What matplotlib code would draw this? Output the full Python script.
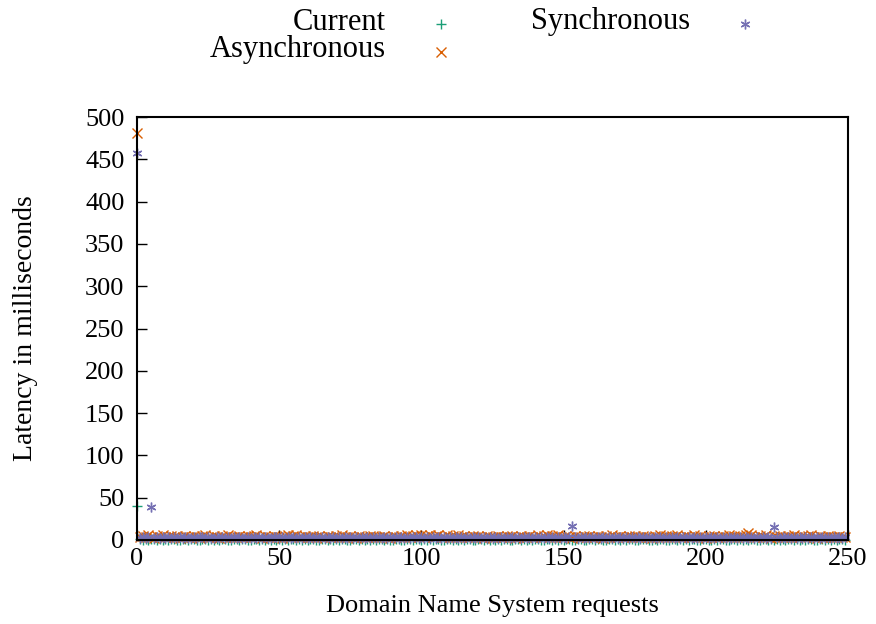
import matplotlib
matplotlib.use("Agg")
import matplotlib.pyplot as plt
import numpy as np

plt.rcParams['font.family'] = ['Liberation Serif', 'DejaVu Serif']

# latency per request (ms), request index 0..249
current = [
    40, 0.6, 0.5, 0.7, 0.4, 0.6, 0.8, 0.5, 0.6, 0.4, 0.7, 0.5, 0.6, 0.9, 0.5, 0.4, 0.6, 0.7, 0.5, 0.6, 0.8, 0.4, 0.5, 0.6, 0.7,
    0.5, 0.6, 0.4, 0.8, 0.5, 0.7, 0.6, 0.5, 0.4, 0.6, 0.9, 0.5, 0.6, 0.7, 0.4, 0.5, 0.6, 0.8, 0.5, 0.6, 0.4, 0.7, 0.5, 0.6, 0.5,
    0.7, 0.4, 0.6, 0.5, 0.8, 0.6, 0.5, 0.7, 0.4, 0.6, 0.5, 0.9, 0.6, 0.4, 0.5, 0.7, 0.6, 0.5, 0.8, 0.4, 0.6, 0.5, 0.7, 0.6, 0.5,
    0.4, 0.6, 0.8, 0.5, 0.7, 0.5, 0.6, 0.4, 0.6, 0.5, 0.7, 0.9, 0.5, 0.6, 0.4, 0.5, 0.6, 0.7, 0.5, 0.4, 0.8, 0.6, 0.5, 0.7, 0.6,
    0.5, 0.7, 0.4, 0.6, 0.5, 0.8, 0.6, 0.4, 0.5, 0.7, 0.6, 0.5, 0.9, 0.4, 0.6, 0.5, 0.7, 0.6, 0.5, 0.4, 0.8, 0.6, 0.5, 0.7, 0.5,
    0.6, 0.4, 0.7, 0.5, 0.6, 0.8, 0.5, 0.4, 0.6, 0.7, 0.5, 0.6, 0.4, 0.9, 0.5, 0.6, 0.7, 0.5, 0.4, 0.6, 0.8, 0.5, 0.6, 0.4, 0.7,
    0.5, 0.6, 0.8, 0.4, 0.5, 0.7, 0.6, 0.5, 0.4, 0.6, 0.7, 0.5, 0.9, 0.6, 0.4, 0.5, 0.6, 0.7, 0.5, 0.8, 0.4, 0.6, 0.5, 0.7, 0.6,
    0.4, 0.5, 0.7, 0.6, 0.8, 0.5, 0.4, 0.6, 0.5, 0.7, 0.6, 0.4, 0.5, 0.9, 0.6, 0.5, 0.7, 0.4, 0.6, 0.5, 0.8, 0.6, 0.5, 0.4, 0.7,
    0.6, 0.5, 0.4, 0.7, 0.5, 0.6, 0.8, 0.5, 0.4, 0.6, 0.7, 0.5, 0.6, 0.4, 0.9, 0.5, 0.6, 0.7, 0.4, 0.5, 0.6, 0.8, 0.5, 0.6, 0.4,
    0.7, 0.5, 0.6, 0.4, 0.8, 0.6, 0.5, 0.7, 0.4, 0.6, 0.5, 0.9, 0.6, 0.5, 0.4, 0.7, 0.6, 0.5, 0.8, 0.4, 0.6, 0.5, 0.7, 0.6, 0.5,
]
asynchronous = [
    481, 3.4, 4.3, 3.0, 5.5, 3.7, 2.8, 4.6, 3.2, 6.0, 3.9, 3.1, 4.8, 3.5, 5.3, 2.9, 4.1, 4.5, 3.3, 3.0, 5.1, 3.6, 2.8, 4.2, 5.8,
    3.4, 3.1, 4.7, 3.8, 2.9, 4.4, 3.2, 5.4, 4.0, 3.0, 3.7, 4.9, 3.1, 3.5, 5.2, 3.3, 4.2, 6.1, 3.6, 2.9, 4.5, 3.8, 3.0, 5.0, 3.4,
    4.1, 2.8, 4.6, 5.6, 3.5, 4.3, 5.9, 3.2, 3.0, 4.8, 3.7, 3.1, 4.4, 3.3, 5.2, 3.9, 2.9, 4.7, 3.4, 3.1, 4.2, 3.6, 5.5, 3.0, 3.8,
    4.5, 3.2, 2.9, 4.9, 3.5, 4.1, 3.0, 4.3, 5.3, 3.4, 3.1, 4.0, 4.6, 3.2, 2.9, 5.1, 3.7, 3.0, 4.4, 3.3, 5.7, 3.8, 4.2, 6.1, 3.5,
    6.2, 3.6, 5.0, 5.8, 3.4, 4.7, 5.4, 3.9, 3.1, 6.0, 3.3, 4.8, 3.6, 5.5, 3.0, 4.2, 3.8, 3.1, 4.5, 3.4, 5.2, 4.0, 2.9, 4.3, 3.2,
    3.7, 3.0, 4.8, 3.3, 3.1, 4.4, 3.6, 5.3, 2.9, 4.1, 4.6, 3.2, 3.0, 4.9, 3.5, 3.8, 5.6, 3.4, 4.2, 6.0, 3.3, 4.7, 3.7, 5.4, 3.1,
    4.0, 4.5, 3.2, 2.9, 5.1, 3.6, 3.0, 4.3, 3.4, 5.2, 3.8, 3.1, 4.6, 3.3, 2.9, 4.2, 3.7, 5.5, 3.0, 3.4, 4.8, 3.2, 3.1, 4.4, 3.9,
    5.3, 3.5, 3.0, 4.7, 3.3, 4.1, 2.9, 5.0, 3.6, 5.8, 3.2, 4.2, 3.1, 4.5, 3.4, 6.1, 3.8, 3.0, 4.9, 3.3, 3.7, 5.4, 3.1, 4.3, 3.5,
    2.9, 4.6, 3.2, 5.2, 4.0, 3.0, 4.4, 3.6, 5.9, 3.3, 4.2, 3.1, 4.8, 3.4, 5.5, 7.8, 6.4, 3.7, 3.0, 4.5, 3.2, 6.0, 3.8, 2.9, 4.7,
    3.5, 5.3, 4.1, 3.0, 4.4, 3.3, 5.6, 3.7, 3.1, 4.2, 3.4, 5.0, 5.7, 3.2, 2.9, 4.6, 3.6, 3.1, 4.3, 3.5, 3.0, 3.9, 4.8, 3.3, 3.1,
]
synchronous = [
    458, 2.8, 3.1, 2.5, 3.4, 39, 2.9, 3.2, 2.6, 3.6, 2.7, 3.0, 2.4, 3.3, 2.8, 3.5, 2.6, 3.1, 2.9, 2.5, 3.4, 2.7, 3.0, 3.6, 2.8,
    3.2, 2.5, 2.9, 3.4, 2.6, 3.1, 2.8, 3.5, 2.4, 3.0, 2.7, 3.3, 2.9, 2.6, 3.2, 2.8, 3.6, 2.5, 3.1, 2.7, 3.4, 2.9, 2.6, 3.0, 3.3,
    2.8, 3.5, 2.6, 3.1, 2.9, 3.7, 2.7, 3.2, 2.5, 3.4, 2.8, 3.0, 2.6, 3.6, 2.9, 3.1, 2.7, 3.3, 2.5, 3.0, 2.8, 3.4, 2.6, 3.2, 2.9,
    3.5, 2.7, 3.0, 2.6, 3.3, 2.8, 3.1, 2.5, 3.4, 2.9, 3.6, 2.7, 3.2, 2.8, 3.0, 2.6, 3.5, 2.9, 3.1, 2.7, 3.3, 2.5, 3.8, 3.0, 2.8,
    3.6, 2.9, 3.4, 2.7, 3.2, 2.6, 3.5, 2.8, 3.1, 2.9, 3.3, 2.7, 3.0, 2.5, 3.4, 2.8, 3.2, 2.6, 3.6, 2.9, 3.0, 2.7, 3.3, 2.8, 3.1,
    2.6, 3.4, 2.9, 3.0, 2.7, 3.5, 2.8, 3.2, 2.5, 3.1, 2.9, 3.6, 2.7, 3.3, 2.6, 3.0, 2.8, 3.4, 2.9, 3.7, 2.7, 3.1, 2.6, 3.2, 2.8,
    3.2, 2.9, 3.5, 16, 3.0, 2.6, 3.3, 2.8, 3.1, 2.5, 3.4, 2.9, 3.0, 2.7, 3.6, 2.8, 3.2, 2.6, 3.1, 2.9, 3.3, 2.7, 3.5, 2.8, 3.0,
    2.6, 3.4, 2.9, 3.1, 2.7, 3.2, 2.5, 3.6, 2.8, 3.0, 2.9, 3.3, 2.7, 3.5, 2.6, 3.1, 2.8, 3.4, 2.9, 3.0, 2.7, 3.2, 2.6, 3.6, 2.8,
    3.1, 2.9, 3.3, 2.7, 3.0, 2.6, 3.4, 2.8, 3.5, 2.9, 3.1, 2.7, 3.2, 2.5, 3.6, 2.8, 3.0, 2.9, 3.3, 2.7, 3.1, 2.6, 3.4, 2.8, 15,
    3.2, 2.9, 3.0, 2.7, 3.5, 2.6, 3.3, 2.8, 3.1, 2.9, 3.4, 2.7, 3.0, 2.6, 3.6, 2.8, 3.2, 2.9, 3.1, 2.7, 3.3, 2.5, 3.0, 2.8, 3.2,
]
series_names = ['Current', 'Asynchronous', 'Synchronous']
series_colors = ['#1b9e77', '#d95f02', '#7570b3']
series_markers = ['+', 'x', (6, 2, 0)]

x_ticks = [0, 50, 100, 150, 200, 250]
y_ticks = [0, 50, 100, 150, 200, 250, 300, 350, 400, 450, 500]

fig = plt.figure(figsize=(8.76, 6.24), dpi=100)
ax = fig.add_axes([137 / 876, 84 / 624, 711 / 876, 423 / 624])

requests = np.arange(len(current))
for vals, name, col, mk in zip([current, asynchronous, synchronous], series_names, series_colors, series_markers):
    ax.plot(requests, vals, linestyle='none', marker=mk, color=col, markersize=7,
            markeredgewidth=1.0, clip_on=False, label=name)

ax.set_xlim(0, 250)
ax.set_ylim(0, 500)
ax.set_xticks(x_ticks)
ax.set_yticks(y_ticks)
ax.tick_params(direction='in', length=7, width=1, labelsize=19, top=False, right=False)
ax.tick_params(axis='x', pad=6)
ax.tick_params(axis='y', pad=9)
for s in ax.spines.values():
    s.set_linewidth(1.5)
ax.set_xlabel('Domain Name System requests', fontsize=19, labelpad=18)
ax.set_ylabel('Latency in milliseconds', fontsize=20, labelpad=34)

# gnuplot-style key: right-aligned text, sample to the right
key_pos = [(386, 22, 441), (386, 50, 441), (690, 22, 745)]
for (tx, ty, mx), name, col, mk in zip(key_pos, series_names, series_colors, series_markers):
    fig.text(tx / 876, 1 - ty / 624, name, ha='right', va='center', fontsize=22)
    ax.plot([mx / 876], [1 - (ty + 2) / 624], transform=fig.transFigure, linestyle='none',
            marker=mk, color=col, markersize=7, markeredgewidth=1.0, clip_on=False)

fig.savefig('out.png', dpi=100)
